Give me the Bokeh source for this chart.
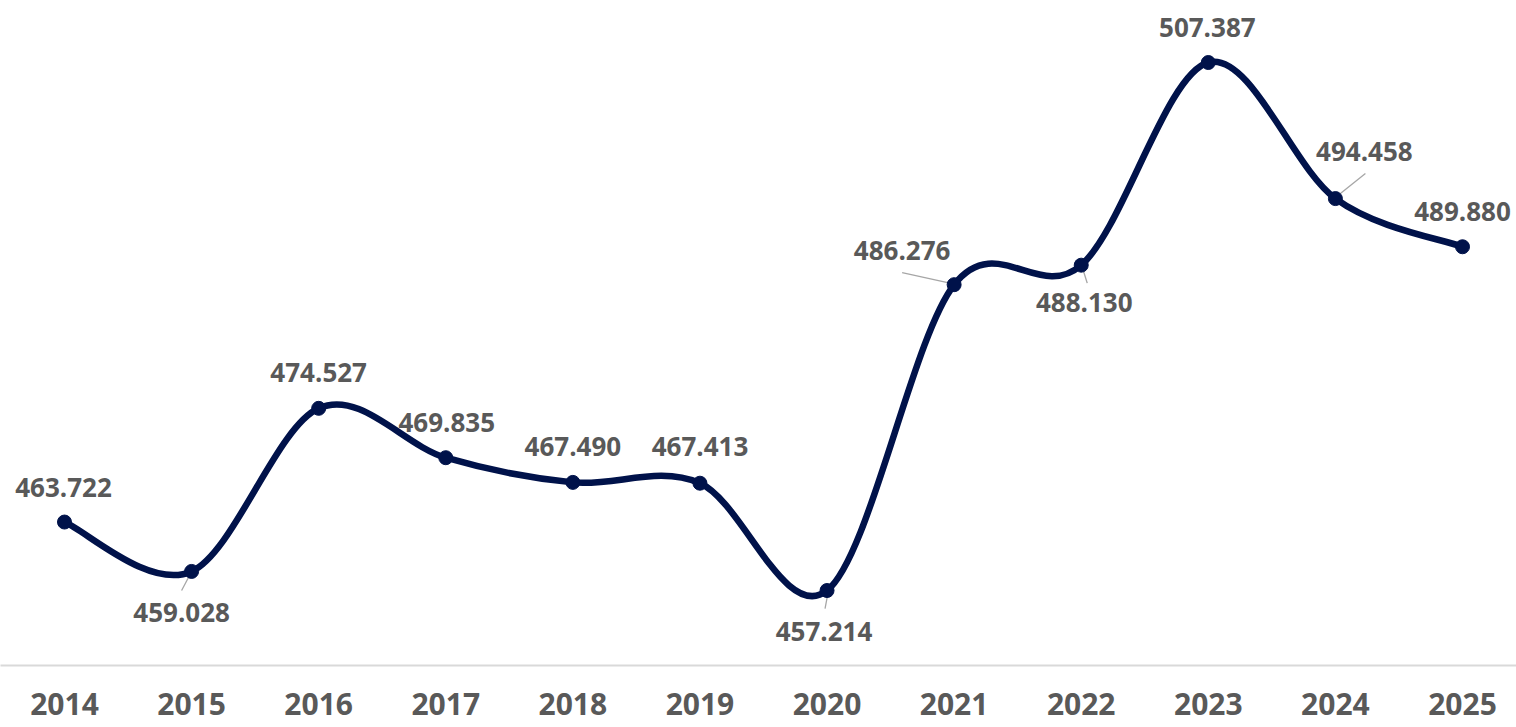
from bokeh.plotting import figure
from bokeh.models import Range1d, FixedTicker, ColumnDataSource
from bokeh.embed import file_html
from bokeh.resources import INLINE
from bokeh.core.properties import value

years = [2014, 2015, 2016, 2017, 2018, 2019, 2020, 2021, 2022, 2023, 2024, 2025]
values = [463.722, 459.028, 474.527, 469.835, 467.490, 467.413,
          457.214, 486.276, 488.130, 507.387, 494.458, 489.880]
labels = ["463.722", "459.028", "474.527", "469.835", "467.490", "467.413",
          "457.214", "486.276", "488.130", "507.387", "494.458", "489.880"]

# label placement (pixels relative to point, screen y down)
lab_dx = [-1, -10, 0, 1, 0, 0, -3, -52, 3, -1, 29, 0]
lab_dy = [-35, 41, -36, -35, -36, -37, 41, -34, 37, -35, -47, -35]
# leader lines (pixel offsets: start and end)
leaders = {1: (-1, 2, -10, 19), 6: (1, 2, -2, 18), 7: (-2, -1, -52, -12),
           8: (1, 2, 6, 18), 10: (0, -1, 30, -25)}

W, H = 1516, 727
BOTTOM = 62
X0, X1 = 2013.4965, 2025.4249
Y0, Y1 = 450.09, 513.28
px_x = W / (X1 - X0)
px_y = (H - BOTTOM) / (Y1 - Y0)

LINE = "#00124A"
GRAY = "#595959"

p = figure(width=W, height=H, output_backend="svg", toolbar_location=None,
           x_range=Range1d(X0, X1), y_range=Range1d(Y0, Y1),
           min_border_left=0, min_border_right=0, min_border_top=0,
           min_border_bottom=BOTTOM)
p.outline_line_color = None
p.grid.visible = False
p.yaxis.visible = False
p.background_fill_color = "white"
p.border_fill_color = "white"

xa = p.xaxis[0]
xa.ticker = FixedTicker(ticks=years)
xa.axis_line_color = "#D9D9D9"
xa.axis_line_width = 2
xa.major_tick_line_color = None
xa.minor_tick_line_color = None
xa.major_label_text_font = "Open Sans"
xa.major_label_text_font_style = "bold"
xa.major_label_text_font_size = "30px"
xa.major_label_text_color = GRAY
xa.major_label_standoff = 21

# smoothed curve (Catmull-Rom as cubic Bezier)
n = len(years)
x0s, y0s, x1s, y1s, cx0, cy0, cx1, cy1 = [], [], [], [], [], [], [], []
for i in range(n - 1):
    pa = max(i - 1, 0)
    pd = min(i + 2, n - 1)
    xA, yA = years[pa], values[pa]
    xB, yB = years[i], values[i]
    xC, yC = years[i + 1], values[i + 1]
    xD, yD = years[pd], values[pd]
    x0s.append(xB); y0s.append(yB); x1s.append(xC); y1s.append(yC)
    cx0.append(xB + (xC - xA) / 6.0); cy0.append(yB + (yC - yA) / 6.0)
    cx1.append(xC - (xD - xB) / 6.0); cy1.append(yC - (yD - yB) / 6.0)

# leader lines
lx0, ly0, lx1, ly1 = [], [], [], []
for i, (a, b, c, d) in leaders.items():
    lx0.append(years[i] + a / px_x); ly0.append(values[i] - b / px_y)
    lx1.append(years[i] + c / px_x); ly1.append(values[i] - d / px_y)
p.segment(x0=lx0, y0=ly0, x1=lx1, y1=ly1, line_color="#A6A6A6", line_width=1.3)

p.bezier(x0=x0s, y0=y0s, x1=x1s, y1=y1s, cx0=cx0, cy0=cy0, cx1=cx1, cy1=cy1,
         line_color=LINE, line_width=6.5, line_cap="round")
p.scatter(x=years, y=values, size=14, fill_color=LINE, line_color=LINE)

src = ColumnDataSource(dict(x=years, y=values, t=labels, dx=lab_dx, dy=lab_dy))
p.text(x="x", y="y", text="t", x_offset="dx", y_offset="dy", source=src,
       text_align="center", text_baseline="middle",
       text_font=value("Open Sans"), text_font_style="bold",
       text_font_size="26px", text_color=GRAY)

open("out.html", "w").write(file_html(p, INLINE))
